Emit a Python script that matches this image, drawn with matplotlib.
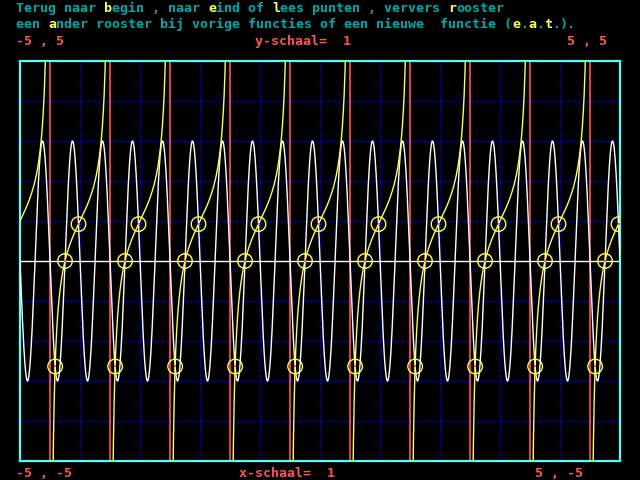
import numpy as np
import matplotlib.pyplot as plt

# --- data: the two plotted functions and the window
X_MIN, X_MAX = -5, 5
Y_MIN, Y_MAX = -5, 5
X_STEP, Y_STEP = 1, 1

WHITE_AMP = -3.0      # white curve: WHITE_AMP * sin(2*pi*WHITE_FREQ*x)
WHITE_FREQ = 2.0
YELLOW_SCALE = 1.0    # yellow curve: tan(pi*x) + YELLOW_SHIFT
YELLOW_SHIFT = 1.0
ASYMPTOTES = [-4.5, -3.5, -2.5, -1.5, -0.5, 0.5, 1.5, 2.5, 3.5, 4.5]

# --- text lines (segment, colour key)
LINE1 = [("Terug naar ", "c"), ("b", "y"), ("egin , naar ", "c"), ("e", "y"),
         ("ind of ", "c"), ("l", "y"), ("ees punten , ververs ", "c"),
         ("r", "y"), ("ooster", "c")]
LINE2 = [("een ", "c"), ("a", "y"), ("nder rooster bij vorige functies of een nieuwe  functie (", "c"),
         ("e", "y"), (".", "c"), ("a", "y"), (".", "c"), ("t", "y"), (".", "c"), (").", "c")]
TOP_LABELS = ["-5 , 5", "y-schaal=  1", "5 , 5"]
BOTTOM_LABELS = ["-5 , -5", "x-schaal=  1", "5 , -5"]

COL = {"c": "#00aaaa", "y": "#ffff55", "r": "#ff5555"}


def white_f(x):
    return WHITE_AMP * np.sin(2 * np.pi * WHITE_FREQ * x)


def yellow_f(x):
    return YELLOW_SCALE * np.tan(np.pi * x) + YELLOW_SHIFT


W, H = 640, 480
fig = plt.figure(figsize=(6.4, 4.8), dpi=100, facecolor="black")
ax = fig.add_axes([20 / W, (H - 461) / H, 600 / W, 400 / H])
ax.set_facecolor("black")
ax.set_xlim(X_MIN, X_MAX)
ax.set_ylim(Y_MIN, Y_MAX)
ax.set_xticks([])
ax.set_yticks([])
for s in ax.spines.values():
    s.set_color("#55ffff")
    s.set_linewidth(1.6)

# grid (dotted blue, like the old screen)
for gx in np.arange(X_MIN + X_STEP, X_MAX, X_STEP):
    ax.axvline(gx, color="#0000ff", lw=1.0, ls=(0, (1.2, 1.2)), zorder=1)
for gy in np.arange(Y_MIN + Y_STEP, Y_MAX, Y_STEP):
    if gy != 0:
        ax.axhline(gy, color="#0000ff", lw=1.0, ls=(0, (1.2, 1.2)), zorder=1)

# asymptote jumps in red
for a in ASYMPTOTES:
    ax.axvline(a - 0.008, color="#ff5555", lw=1.2, zorder=2)

# x axis
ax.axhline(0, color="white", lw=1.0, zorder=3)

x = np.linspace(X_MIN, X_MAX, 6001)
ax.plot(x, white_f(x), color="white", lw=1.0, zorder=4)

yy = yellow_f(x)
jump = np.abs(np.diff(yy)) > 5
yy_plot = yy.copy()
yy_plot[1:][jump] = np.nan
yy_plot = np.clip(yy_plot, Y_MIN - 1, Y_MAX + 1)
ax.plot(x, yy_plot, color="#ffff55", lw=1.0, zorder=5)

# intersections of the two curves
d = yy - white_f(x)
ix, iy = [], []
for i in range(len(x) - 1):
    if np.sign(d[i]) != np.sign(d[i + 1]) and abs(yy[i]) < 4 and abs(yy[i + 1]) < 4:
        t = d[i] / (d[i] - d[i + 1])
        xr = x[i] + t * (x[i + 1] - x[i])
        ix.append(xr)
        iy.append(yellow_f(xr))
ax.scatter(ix, iy, s=110, facecolors="none", edgecolors="#ffff55", linewidths=1.0, zorder=6)
ax.scatter(ix, iy, s=3, color="#ff5555", zorder=7, marker="s", linewidths=0)

# --- text
FONT = dict(family="DejaVu Sans Mono", size=9.6, weight="bold")
CW = 8.0  # px per char


def put(segments, x0, ybase):
    col = 0
    for txt, c in segments:
        fig.text((x0 + col * CW) / W, 1 - ybase / H, txt, color=COL[c],
                 ha="left", va="baseline", **FONT)
        col += len(txt)


put(LINE1, 16, 12)
put(LINE2, 16, 28)
put([(TOP_LABELS[0], "r")], 16, 45)
put([(TOP_LABELS[1], "r")], 255, 45)
put([(TOP_LABELS[2], "r")], 567, 45)
put([(BOTTOM_LABELS[0], "r")], 16, 477)
put([(BOTTOM_LABELS[1], "r")], 239, 477)
put([(BOTTOM_LABELS[2], "r")], 535, 477)

fig.savefig("out.png", dpi=100, facecolor="black")
